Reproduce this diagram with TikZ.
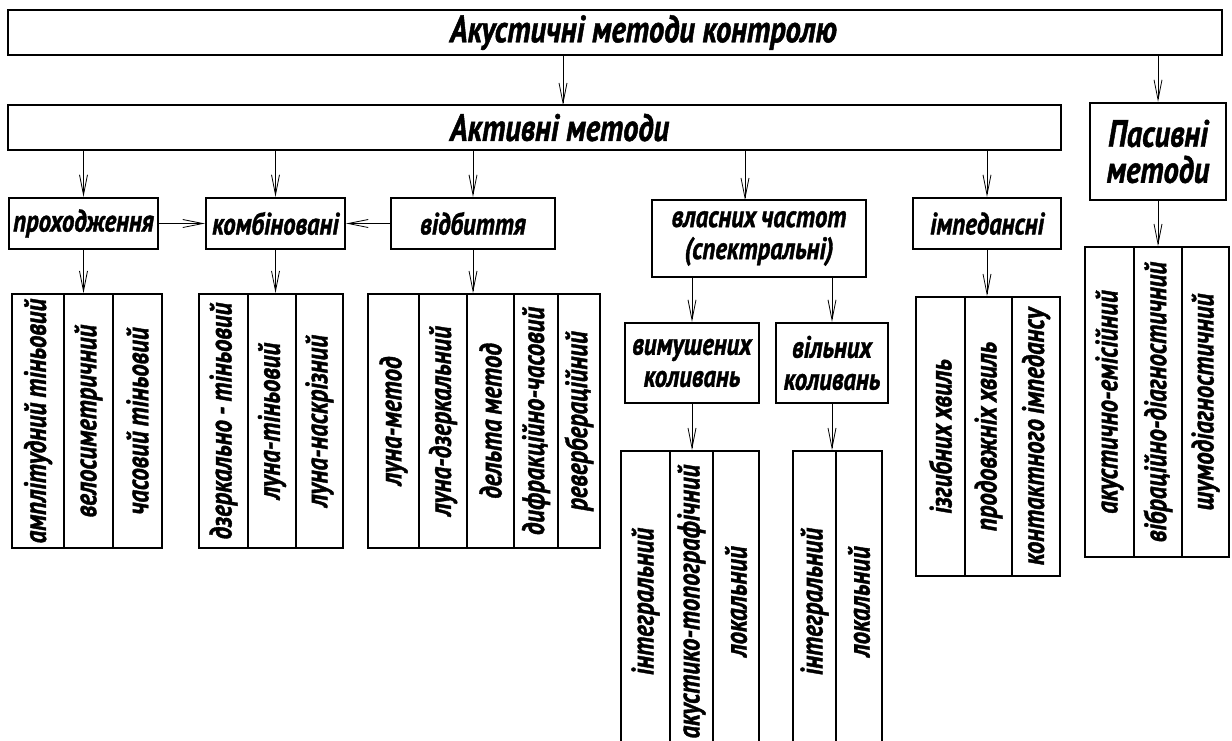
\documentclass[tikz,border=0pt]{standalone}
\usepackage{fontspec}
\usepackage{tikz}
\usetikzlibrary{arrows.meta}

\newfontfamily\diagfont{PT Sans}[FakeStretch=0.8, WordSpace=0.8, BoldItalicFeatures={FakeBold=1.2}]
\newcommand{\bigtxt}{\diagfont\bfseries\itshape\fontsize{38}{36}\selectfont}
\newcommand{\midtxt}{\diagfont\bfseries\itshape\fontsize{31}{32}\selectfont}

\tikzset{
  box/.style={draw, line width=2.4pt, inner sep=0pt, font=\midtxt, align=center},
  leaf/.style={draw, line width=2pt, inner sep=0pt, rotate=90, font=\midtxt},
  arr/.style={line width=0.8pt, -{Straight Barb[length=20pt,width=8pt,line width=0.8pt]}},
}

\begin{document}
\begin{tikzpicture}[x=1pt, y=-1pt]
  \useasboundingbox (0,0) rectangle (1232,740);

  % Top level
  \node[box, font=\bigtxt, minimum width=1214pt, minimum height=45pt, text width=1214pt, align=left] (acoustic) at (615,32.5) {\hspace*{442pt}Акустичні\hspace{-5pt} методи\hspace{-5pt} контролю};
  \node[box, font=\bigtxt, minimum width=1053pt, minimum height=45pt, text width=1053pt, align=left] (active) at (534.5,127.5) {\hspace*{442pt}Активні\hspace{-5pt} методи};
  \node[box, font=\bigtxt, minimum width=136pt, minimum height=97pt] (passive) at (1158,151.5) {Пасивні\\методи};

  % Active methods
  \node[box, minimum width=149pt, minimum height=51pt] (prohod) at (83.5,223.5) {проходження};
  \node[box, minimum width=139pt, minimum height=51pt] (kombin) at (275.5,223.5) {комбіновані};
  \node[box, minimum width=164pt, minimum height=51pt] (vidbyt) at (473,223.5) {відбиття};
  \node[box, minimum width=214pt, minimum height=77pt] (vlasn) at (759,238.5) {власних частот\\(спектральні)};
  \node[box, minimum width=148pt, minimum height=51pt] (imped) at (987,223.5) {імпедансні};
  \node[box, minimum width=134pt, minimum height=80pt] (vymush) at (692,363) {вимушених\\коливань};
  \node[box, minimum width=112pt, minimum height=80pt] (vilnyh) at (832,363) {вільних\\коливань};

  % Leaves: passing
  \node[leaf, minimum width=254pt, minimum height=52pt] (g1a) at (38,421) {амплітудний тіньовий};
  \node[leaf, minimum width=254pt, minimum height=49pt] (g1b) at (88.5,421) {велосиметричний};
  \node[leaf, minimum width=254pt, minimum height=49pt] (g1c) at (137.5,421) {часовий тіньовий};

  % Leaves: combined
  \node[leaf, minimum width=254pt, minimum height=49pt] (g2a) at (223.5,421) {дзеркально - тіньовий};
  \node[leaf, minimum width=254pt, minimum height=48pt] (g2b) at (272,421) {луна-тіньовий};
  \node[leaf, minimum width=254pt, minimum height=47pt] (g2c) at (319.5,421) {луна-наскрізний};

  % Leaves: reflection
  \node[leaf, minimum width=254pt, minimum height=51pt] (g3a) at (393.5,421) {луна-метод};
  \node[leaf, minimum width=254pt, minimum height=48pt] (g3b) at (443,421) {луна-дзеркальний};
  \node[leaf, minimum width=254pt, minimum height=47pt] (g3c) at (490.5,421) {дельта метод};
  \node[leaf, minimum width=254pt, minimum height=44pt] (g3d) at (536,421) {дифракційно-часовий};
  \node[leaf, minimum width=254pt, minimum height=42pt] (g3e) at (579,421) {ревербераційний};

  % Leaves: forced and free vibrations
  \node[leaf, minimum width=301pt, minimum height=49pt] (g4a) at (645.5,601.5) {інтегральний};
  \node[leaf, minimum width=301pt, minimum height=43pt] (g4b) at (691.5,601.5) {акустико-топографічний};
  \node[leaf, minimum width=301pt, minimum height=46pt] (g4c) at (736,601.5) {локальний};
  \node[leaf, minimum width=301pt, minimum height=43pt] (g5a) at (814.5,601.5) {інтегральний};
  \node[leaf, minimum width=301pt, minimum height=46pt] (g5b) at (859,601.5) {локальний};

  % Leaves: impedance
  \node[leaf, minimum width=279pt, minimum height=49pt] (g6a) at (940.5,436.5) {ізгибних хвиль};
  \node[leaf, minimum width=279pt, minimum height=47pt] (g6b) at (988.5,436.5) {продовжніх хвиль};
  \node[leaf, minimum width=279pt, minimum height=48pt] (g6c) at (1036,436.5) {контактного імпедансу};

  % Leaves: passive
  \node[leaf, minimum width=310pt, minimum height=49pt] (g7a) at (1109.5,402) {акустично-емісійний};
  \node[leaf, minimum width=310pt, minimum height=48pt] (g7b) at (1158,402) {вібраційно-діагностичний};
  \node[leaf, minimum width=310pt, minimum height=47pt] (g7c) at (1205.5,402) {шумодіагностичний};

  % Arrows
  \coordinate (actin) at (563,105);
  \coordinate (vlasnin) at (745,200);
  \draw[arr] (actin |- acoustic.south) -- (actin);
  \draw[arr] (passive.north |- acoustic.south) -- (passive.north);
  \draw[arr] (prohod.north |- active.south) -- (prohod.north);
  \draw[arr] (kombin.north |- active.south) -- (kombin.north);
  \draw[arr] (vidbyt.north |- active.south) -- (vidbyt.north);
  \draw[arr] (vlasnin |- active.south) -- (vlasnin);
  \draw[arr] (imped.north |- active.south) -- (imped.north);
  \draw[arr] (prohod.east) -- (kombin.west);
  \draw[arr] (vidbyt.west) -- (kombin.east);
  \draw[arr] (vymush.north |- vlasn.south) -- (vymush.north);
  \draw[arr] (vilnyh.north |- vlasn.south) -- (vilnyh.north);
  \draw[arr] (prohod.south) -- (prohod.south |- g1a.east);
  \draw[arr] (kombin.south) -- (kombin.south |- g2a.east);
  \draw[arr] (vidbyt.south) -- (vidbyt.south |- g3a.east);
  \draw[arr] (vymush.south) -- (vymush.south |- g4a.east);
  \draw[arr] (vilnyh.south) -- (vilnyh.south |- g5a.east);
  \draw[arr] (imped.south) -- (imped.south |- g6a.east);
  \draw[arr] (passive.south) -- (passive.south |- g7a.east);

\end{tikzpicture}
\end{document}
